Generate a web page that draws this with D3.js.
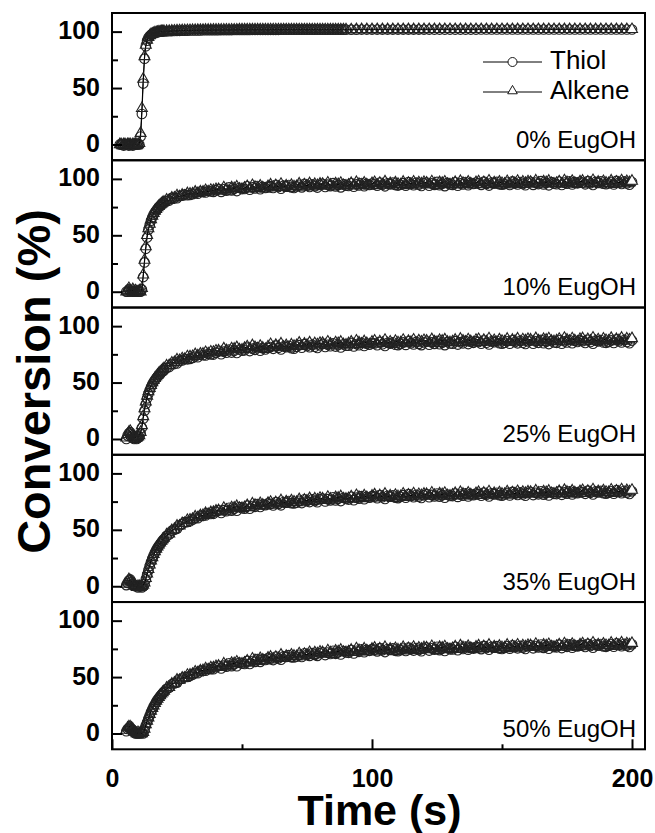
<!DOCTYPE html>
<html>
<head>
<meta charset="utf-8">
<script src="https://cdn.jsdelivr.net/npm/d3@7"></script>
<style>
body { margin: 0; background: #fff; }
</style>
</head>
<body>
<div id="chart"></div>
<script>
// sampling times (s)
var time = [3,3.5,4,4.5,5,5.5,6,6.5,7,7.5,8,8.5,9,9.5,10,10.5,11,11.5,12,12.5,13,13.5,14,14.5,15,15.5,16,16.5,17,17.5,18,18.5,19,19.5,20,
	21,22,23,24,25,26,27,28,29,30,
	31,32,33,34,35,36,37,38,39,40,
	41,42,43,44,45,46,47,48,49,50,
	51,52,53,54,55,56,57,58,59,60,
	61,62,63,64,65,66,67,68,69,70,
	71,72,73,74,75,76,77,78,79,80,
	81,82,83,84,85,86,87,88,89,90,
	91,92,93,94,95,96,97,98,99,100,
	101,102,103,104,105,106,107,108,109,110,
	111,112,113,114,115,116,117,118,119,120,
	121,122,123,124,125,126,127,128,129,130,
	131,132,133,134,135,136,137,138,139,140,
	141,142,143,144,145,146,147,148,149,150,
	151,152,153,154,155,156,157,158,159,160,
	161,162,163,164,165,166,167,168,169,170,
	171,172,173,174,175,176,177,178,179,180,
	181,182,183,184,185,186,187,188,189,190,
	191,192,193,194,195,196,197,198,199,200];

// 0% EugOH (recorded every 2 s after 90 s)
var thiol0 = [0,0,0,-1,0,0,0,-1,0,0,-1,0,0,0,0,
	0,7,27,54,76,87,92,94.5,96,97.2,97.8,98.3,98.8,99.2,99.5,99.7,99.9,100,100.1,100.2,
	100.3,100.4,100.5,100.6,100.7,100.7,100.8,100.9,100.9,101,
	101,101.1,101.1,101.1,101.2,101.2,101.2,101.3,101.3,101.3,
	101.3,101.4,101.4,101.4,101.4,101.4,101.5,101.5,101.5,101.5,
	101.5,101.5,101.5,101.6,101.6,101.6,101.6,101.6,101.6,101.6,
	101.6,101.6,101.6,101.6,101.7,101.7,101.7,101.7,101.7,101.7,
	101.7,101.7,101.7,101.7,101.7,101.7,101.7,101.7,101.7,101.7,
	101.7,101.7,101.7,101.7,101.7,101.7,101.7,101.7,101.7,101.7,
	null,101.7,null,101.7,null,101.8,null,101.8,null,101.8,
	null,101.8,null,101.8,null,101.8,null,101.8,null,101.8,
	null,101.8,null,101.8,null,101.8,null,101.8,null,101.8,
	null,101.8,null,101.8,null,101.8,null,101.8,null,101.8,
	null,101.8,null,101.8,null,101.8,null,101.8,null,101.8,
	null,101.9,null,101.9,null,101.9,null,101.9,null,101.9,
	null,101.9,null,101.9,null,101.9,null,101.9,null,101.9,
	null,101.9,null,101.9,null,101.9,null,101.9,null,101.9,
	null,101.9,null,101.9,null,101.9,null,101.9,null,101.9,
	null,101.9,null,101.9,null,101.9,null,101.9,null,101.9,
	null,101.9,null,101.9,null,101.9,null,101.9,null,101.9];
var alkene0 = [0,0,-1,0,0,-1,0,0,0,-1,0,0,0,-1,0,
	1,10,32,58,78,88,92.5,95,96.5,97.5,98,98.5,99,99.3,99.6,99.8,100,100.1,100.2,100.3,
	100.4,100.5,100.6,100.7,100.8,100.9,101,101,101.1,101.1,
	101.2,101.2,101.3,101.3,101.3,101.4,101.4,101.4,101.5,101.5,
	101.5,101.5,101.5,101.6,101.6,101.6,101.6,101.6,101.7,101.7,
	101.7,101.7,101.7,101.7,101.7,101.7,101.7,101.7,101.7,101.7,
	101.8,101.8,101.8,101.8,101.8,101.8,101.8,101.8,101.8,101.8,
	101.8,101.8,101.8,101.8,101.8,101.8,101.8,101.8,101.8,101.8,
	101.8,101.8,101.8,101.8,101.8,101.8,101.8,101.8,101.8,101.8,
	null,101.8,null,101.9,null,101.9,null,101.9,null,101.9,
	null,101.9,null,101.9,null,101.9,null,101.9,null,101.9,
	null,101.9,null,101.9,null,101.9,null,101.9,null,101.9,
	null,102,null,102,null,102,null,102,null,102,
	null,102,null,102,null,102,null,102,null,102,
	null,102,null,102,null,102,null,102,null,102,
	null,102,null,102,null,102,null,102,null,102,
	null,102,null,102,null,102,null,102,null,102,
	null,102,null,102,null,102,null,102,null,102,
	null,102,null,102,null,102,null,102,null,102,
	null,102,null,102,null,102,null,102,null,102];

// 10% EugOH
var thiol10 = [null,null,null,null,null,
	0,0,2,0,1,0,0,0,1,0,0,
	0,2,13,26,38,48,55,59,63,66,68.5,70.5,72,73.5,75,76.2,77.2,78,78.8,
	80.5,80.8,83.1,82.9,82.9,84.9,85.1,86.2,85.6,85.8,
	86.5,87.6,86.9,88.8,88.3,88,89.4,88.8,88.5,90,
	91,88.5,90.7,89.6,92.4,89.7,91.2,89.2,92.1,91,
	91.1,93.4,90.4,92.5,91.5,93.6,90.8,92.9,91.9,93.2,
	93.5,91.9,94.7,92.8,91.3,94,93.3,94.5,92.4,92,
	93.3,94.7,92.5,95.6,94,92.9,95.1,93.4,92.3,94.6,
	95.6,92.9,94.9,93.6,96.2,93.3,94.7,92.5,95.3,94,
	93.8,96.1,93.1,95.2,94.2,96.3,93.5,95.6,94.6,95.9,
	95.6,94,96.8,94.9,93.4,96.1,95.4,96.6,94.5,94.1,
	94.8,96.2,94,97.1,95.5,94.4,96.6,94.9,93.8,96.1,
	96.7,94,96,94.7,97.3,94.4,95.8,93.6,96.4,95.1,
	94.7,97,94,96.1,95.1,97.2,94.4,96.5,95.5,96.8,
	96.3,94.7,97.5,95.6,94.1,96.8,96.1,97.3,95.2,94.8,
	95.4,96.8,94.6,97.7,96.1,95,97.2,95.5,94.4,96.7,
	97.4,94.7,96.7,95.4,98,95.1,96.5,94.3,97.1,95.8,
	95.3,97.6,94.6,96.7,95.7,97.8,95,97.1,96.1,97.4,
	96.8,95.2,98,96.1,94.6,97.3,96.6,97.8,95.7,95.3,
	95.9,97.3,95.1,98.2,96.6,95.5,97.7,96,94.9,97.2];
var alkene10 = [null,null,null,null,null,
	0,1,3,1,0,2,0,1,0,0,1,
	0,3,15,28,40,50,56,60,64,67,69.5,71.5,73,74.5,75.8,77,78,78.8,79.5,
	81.4,81.1,83.1,83.2,85.2,84.3,85.7,85,87,86.7,
	86.8,88.4,87.2,88.6,88.4,89.8,88.6,90,89.7,90.7,
	90.7,89.3,92.3,90.6,89.3,92.2,91.6,93,91,90.8,
	92,93.4,91.2,94.3,92.7,91.6,93.8,92.1,91,93.3,
	94.8,92.1,94.1,92.8,95.4,92.5,93.9,91.7,94.5,93.2,
	93.4,95.7,92.7,94.8,93.8,95.9,93.1,95.2,94.2,95.5,
	95.3,93.7,96.5,94.6,93.1,95.8,95.1,96.3,94.2,93.8,
	94.7,96.1,93.9,97,95.4,94.3,96.5,94.8,93.7,96,
	96.9,94.2,96.2,94.9,97.5,94.6,96,93.8,96.6,95.3,
	94.9,97.2,94.2,96.3,95.3,97.4,94.6,96.7,95.7,97,
	96.4,94.8,97.6,95.7,94.2,96.9,96.2,97.4,95.3,94.9,
	95.6,97,94.8,97.9,96.3,95.2,97.4,95.7,94.6,96.9,
	97.6,94.9,96.9,95.6,98.2,95.3,96.7,94.5,97.3,96,
	95.5,97.8,94.8,96.9,95.9,98,95.2,97.3,96.3,97.6,
	97.1,95.5,98.3,96.4,94.9,97.6,96.9,98.1,96,95.6,
	96.2,97.6,95.4,98.5,96.9,95.8,98,96.3,95.2,97.5,
	98.1,95.4,97.4,96.1,98.7,95.8,97.2,95,97.8,96.5,
	96,98.3,95.3,97.4,96.4,98.5,95.7,97.8,96.8,98.1];

// 25% EugOH
var thiol25 = [null,null,null,null,null,
	0,3,5,6,4,1,0,1,0,1,
	2,5,10,18,25,31,36,40,43,46,48.5,50.5,52.3,53.8,55.2,56.5,57.7,58.9,60,61,
	63,63.8,66.5,66.6,66.9,69.2,69.6,71,70.6,71,
	71.9,73.1,72.5,74.6,74.2,74,75.5,75,74.8,76.4,
	77.5,75.1,77.4,76.4,79.3,76.6,78.3,76.3,79.3,78.2,
	78.6,80.9,77.9,80,79,81.1,78.3,80.4,79.4,80.7,
	81.5,79.9,82.7,80.8,79.3,82,81.3,82.5,80.4,80,
	81.7,83.1,80.9,84,82.4,81.3,83.5,81.8,80.7,83,
	84.2,81.5,83.5,82.2,84.8,81.9,83.3,81.1,83.9,82.6,
	82.7,85,82,84.1,83.1,85.2,82.4,84.5,83.5,84.8,
	84.7,83.1,85.9,84,82.5,85.2,84.5,85.7,83.6,83.2,
	84.2,85.6,83.4,86.5,84.9,83.8,86,84.3,83.2,85.5,
	86.3,83.6,85.6,84.3,86.9,84,85.4,83.2,86,84.7,
	84.4,86.7,83.7,85.8,84.8,86.9,84.1,86.2,85.2,86.5,
	86,84.4,87.2,85.3,83.8,86.5,85.8,87,84.9,84.5,
	85.2,86.6,84.4,87.5,85.9,84.8,87,85.3,84.2,86.5,
	87.2,84.5,86.5,85.2,87.8,84.9,86.3,84.1,86.9,85.6,
	85.2,87.5,84.5,86.6,85.6,87.7,84.9,87,86,87.3,
	86.7,85.1,87.9,86,84.5,87.2,86.5,87.7,85.6,85.2,
	85.9,87.3,85.1,88.2,86.6,85.5,87.7,86,84.9,87.2];
var alkene25 = [null,null,null,null,null,
	1,4,6,7,5,2,1,1,1,2,
	3,6,12,20,27,33,38,42,45,47.5,50,52,53.8,55.3,56.7,58,59.2,60.4,61.5,62.5,
	64.9,65.1,67.5,67.9,70.2,69.6,71.2,70.8,73,72.9,
	73.2,74.9,73.8,75.4,75.3,76.8,75.7,77.2,77,78.1,
	78.2,76.9,80,78.4,77.2,80.1,79.7,81.1,79.2,79,
	80.5,81.9,79.7,82.8,81.2,80.1,82.3,80.6,79.5,81.8,
	83.8,81.1,83.1,81.8,84.4,81.5,82.9,80.7,83.5,82.2,
	82.8,85.1,82.1,84.2,83.2,85.3,82.5,84.6,83.6,84.9,
	84.9,83.3,86.1,84.2,82.7,85.4,84.7,85.9,83.8,83.4,
	84.6,86,83.8,86.9,85.3,84.2,86.4,84.7,83.6,85.9,
	87,84.3,86.3,85,87.6,84.7,86.1,83.9,86.7,85.4,
	85.3,87.6,84.6,86.7,85.7,87.8,85,87.1,86.1,87.4,
	87,85.4,88.2,86.3,84.8,87.5,86.8,88,85.9,85.5,
	86.3,87.7,85.5,88.6,87,85.9,88.1,86.4,85.3,87.6,
	88.3,85.6,87.6,86.3,88.9,86,87.4,85.2,88,86.7,
	86.3,88.6,85.6,87.7,86.7,88.8,86,88.1,87.1,88.4,
	87.9,86.3,89.1,87.2,85.7,88.4,87.7,88.9,86.8,86.4,
	87.1,88.5,86.3,89.4,87.8,86.7,88.9,87.2,86.1,88.4,
	89,86.3,88.3,87,89.6,86.7,88.1,85.9,88.7,87.4,
	87,89.3,86.3,88.4,87.4,89.5,86.7,88.8,87.8,89.1];

// 35% EugOH
var thiol35 = [null,null,null,null,null,
	1,3,5,6,4,2,1,0,0,-1,
	0,0,-1,0,2,6,10,14,18,21.5,24.5,27.3,29.8,32,34,35.8,37.5,39,40.4,41.7,
	44.4,45.8,49.2,50,50.9,53.8,54.9,56.8,56.9,57.7,
	59,60.6,60.3,62.7,62.6,62.7,64.4,64.1,64.2,65.9,
	67.2,64.9,67.4,66.5,69.5,67,68.8,66.9,70.1,69.1,
	68.8,71.4,68.7,71.1,70.4,72.8,70.3,72.6,71.9,73.4,
	73,71.6,74.6,73,71.7,74.6,74.1,75.5,73.6,73.4,
	74.1,75.7,73.7,77,75.5,74.6,77,75.5,74.5,77,
	77.6,75.1,77.2,76.1,78.8,76,77.6,75.5,78.4,77.3,
	76.8,79.2,76.3,78.5,77.6,79.8,77.1,79.3,78.4,79.8,
	79.6,78,80.8,78.9,77.4,80.1,79.4,80.6,78.5,78.1,
	79.3,80.7,78.5,81.6,80,78.9,81.1,79.4,78.3,80.6,
	81.6,78.9,80.9,79.6,82.2,79.3,80.7,78.5,81.3,80,
	79.9,82.2,79.2,81.3,80.3,82.4,79.6,81.7,80.7,82,
	81.8,80.2,83,81.1,79.6,82.3,81.6,82.8,80.7,80.3,
	81.3,82.7,80.5,83.6,82,80.9,83.1,81.4,80.3,82.6,
	83.5,80.8,82.8,81.5,84.1,81.2,82.6,80.4,83.2,81.9,
	81.7,84,81,83.1,82.1,84.2,81.4,83.5,82.5,83.8,
	83.5,81.9,84.7,82.8,81.3,84,83.3,84.5,82.4,82,
	82.8,84.2,82,85.1,83.5,82.4,84.6,82.9,81.8,84.1];
var alkene35 = [null,null,null,null,null,
	2,4,6,5,4,3,1,0,-1,0,
	0,-1,0,1,3,7,11,15,19,22.5,25.5,28.3,30.8,33,35,36.8,38.5,40,41.4,42.7,
	45.6,46.4,49.5,50.6,53.5,53.5,55.7,55.8,58.5,58.8,
	59.5,61.6,60.8,62.7,62.9,64.7,63.8,65.5,65.6,66.8,
	67.1,65.9,69.2,67.7,66.6,69.7,69.4,70.9,69.2,69.1,
	69.9,71.6,69.7,73.1,71.8,71,73.5,72,71.2,73.7,
	74.5,72,74.2,73.2,76,73.3,74.9,72.9,75.9,74.8,
	74.4,76.9,74.1,76.4,75.5,77.8,75.2,77.5,76.6,78.1,
	77.5,76.1,79,77.3,75.9,78.7,78.2,79.5,77.5,77.3,
	77.9,79.4,77.3,80.5,79,78,80.3,78.7,77.7,80.1,
	81.1,78.4,80.4,79.1,81.7,78.8,80.2,78,80.8,79.5,
	79.6,81.9,78.9,81,80,82.1,79.3,81.4,80.4,81.7,
	81.5,79.9,82.7,80.8,79.3,82,81.3,82.5,80.4,80,
	81,82.4,80.2,83.3,81.7,80.6,82.8,81.1,80,82.3,
	83.3,80.6,82.6,81.3,83.9,81,82.4,80.2,83,81.7,
	81.6,83.9,80.9,83,82,84.1,81.3,83.4,82.4,83.7,
	83.4,81.8,84.6,82.7,81.2,83.9,83.2,84.4,82.3,81.9,
	82.8,84.2,82,85.1,83.5,82.4,84.6,82.9,81.8,84.1,
	85,82.3,84.3,83,85.6,82.7,84.1,81.9,84.7,83.4,
	83.1,85.4,82.4,84.5,83.5,85.6,82.8,84.9,83.9,85.2];

// 50% EugOH
var thiol50 = [null,null,null,null,null,
	2,4,5,5,4,3,1,0,0,0,
	0,0,1,0,3,7,10,13,16,19,21.5,23.8,26,28,29.8,31.5,33,34.4,35.7,36.9,
	39.3,40.5,43.7,44.3,45.1,47.8,48.6,50.3,50.2,51,
	52.2,53.7,53.4,55.7,55.6,55.6,57.3,57,57,58.7,
	60,57.7,60.1,59.2,62.2,59.7,61.5,59.6,62.8,61.8,
	61.6,64.3,61.7,64.2,63.5,66,63.5,65.9,65.2,66.8,
	66.4,65.1,68.2,66.6,65.4,68.3,67.9,69.4,67.5,67.4,
	68.1,69.7,67.8,71.1,69.7,68.8,71.2,69.7,68.8,71.3,
	72,69.5,71.7,70.5,73.3,70.6,72.1,70.1,73.1,71.9,
	71.5,73.9,71,73.3,72.4,74.6,72,74.2,73.3,74.7,
	74.4,72.8,75.6,73.7,72.2,74.9,74.2,75.4,73.3,72.9,
	73.9,75.3,73.1,76.2,74.6,73.5,75.7,74,72.9,75.2,
	76.2,73.5,75.5,74.2,76.8,73.9,75.3,73.1,75.9,74.6,
	74.5,76.8,73.8,75.9,74.9,77,74.2,76.3,75.3,76.6,
	76.4,74.8,77.6,75.7,74.2,76.9,76.2,77.4,75.3,74.9,
	75.9,77.3,75.1,78.2,76.6,75.5,77.7,76,74.9,77.2,
	78.2,75.5,77.5,76.2,78.8,75.9,77.3,75.1,77.9,76.6,
	76.4,78.7,75.7,77.8,76.8,78.9,76.1,78.2,77.2,78.5,
	78.3,76.7,79.5,77.6,76.1,78.8,78.1,79.3,77.2,76.8,
	77.7,79.1,76.9,80,78.4,77.3,79.5,77.8,76.7,79];
var alkene50 = [null,null,null,null,null,
	3,5,6,6,5,4,2,1,0,1,
	0,1,0,1,4,8,11,14,17,19.8,22.3,24.6,26.8,28.8,30.6,32.2,33.7,35.1,36.4,37.6,
	40.4,41,43.9,44.8,47.5,47.3,49.3,49.2,51.7,52,
	52.6,54.6,53.8,55.6,55.8,57.5,56.6,58.3,58.3,59.5,
	59.8,58.6,61.8,60.3,59.2,62.3,62,63.5,61.8,61.7,
	62.6,64.4,62.6,66.1,64.8,64.1,66.6,65.2,64.4,67,
	67.8,65.4,67.7,66.7,69.6,66.9,68.6,66.7,69.7,68.7,
	68.3,70.8,68.1,70.4,69.6,71.9,69.3,71.6,70.8,72.3,
	71.8,70.4,73.4,71.6,70.3,73.2,72.6,74,72.1,71.8,
	72.5,74,71.9,75.2,73.7,72.7,75.1,73.5,72.5,74.9,
	75.8,73.1,75.1,73.8,76.4,73.5,74.9,72.7,75.5,74.2,
	74.1,76.4,73.4,75.5,74.5,76.6,73.8,75.9,74.9,76.2,
	76,74.4,77.2,75.3,73.8,76.5,75.8,77,74.9,74.5,
	75.5,76.9,74.7,77.8,76.2,75.1,77.3,75.6,74.5,76.8,
	77.8,75.1,77.1,75.8,78.4,75.5,76.9,74.7,77.5,76.2,
	76.1,78.4,75.4,77.5,76.5,78.6,75.8,77.9,76.9,78.2,
	78,76.4,79.2,77.3,75.8,78.5,77.8,79,76.9,76.5,
	77.4,78.8,76.6,79.7,78.1,77,79.2,77.5,76.4,78.7,
	79.7,77,79,77.7,80.3,77.4,78.8,76.6,79.4,78.1,
	77.9,80.2,77.2,79.3,78.3,80.4,77.6,79.7,78.7,80];

var panelLabels = ["0% EugOH", "10% EugOH", "25% EugOH", "35% EugOH", "50% EugOH"];
var seriesNames = ["Thiol", "Alkene"];
var yTicks = [0, 50, 100];
var yMinorTicks = [25, 75];
var xTicks = [0, 100, 200];
var xMinorTicks = [50, 150];

var panels = [
	{ label: panelLabels[0], thiol: thiol0, alkene: alkene0 },
	{ label: panelLabels[1], thiol: thiol10, alkene: alkene10 },
	{ label: panelLabels[2], thiol: thiol25, alkene: alkene25 },
	{ label: panelLabels[3], thiol: thiol35, alkene: alkene35 },
	{ label: panelLabels[4], thiol: thiol50, alkene: alkene50 }
];

panels.forEach(function(p) {
	if (p.thiol.length !== time.length || p.alkene.length !== time.length)
		throw new Error(p.label + " length " + p.thiol.length + "/" + p.alkene.length + " vs " + time.length);
});

var width = 655, height = 833;
var plotLeft = 112, plotRight = 645, plotTop = 13, panelH = 147.26;
var font = "'Liberation Sans', Arial, sans-serif";

var x = d3.scaleLinear().domain([0, 205]).range([plotLeft, plotRight]);

var svg = d3.select("#chart").append("svg")
	.attr("width", width)
	.attr("height", height)

svg.append("rect")
	.attr("width", width)
	.attr("height", height)
	.attr("fill", "#fff")

var triangle = d3.symbol().type(d3.symbolTriangle).size(52);

function styleAxis(a) {
	a.select(".domain").remove();
	a.attr("font-family", font).attr("font-size", 25).attr("font-weight", "bold");
	a.selectAll("line").attr("stroke", "#000").attr("stroke-width", 2);
	a.selectAll("text").attr("fill", "#000");
}

panels.forEach(function(p, i) {
	var y0 = plotTop + i * panelH;
	var y = d3.scaleLinear().domain([-14, 116.5]).range([y0 + panelH, y0]);
	var g = svg.append("g").attr("class", "panel" + i);

	var pts = function(vals) {
		return time.map(function(t, k) { return [t, vals[k]]; })
			.filter(function(d) { return d[1] != null; });
	};
	var line = d3.line()
		.x(function(d) { return x(d[0]); })
		.y(function(d) { return y(d[1]); });

	// thiol: line + open circles
	var thiol = pts(p.thiol);
	g.append("path")
		.attr("d", line(thiol))
		.attr("fill", "none")
		.attr("stroke", "#000")
		.attr("stroke-width", 1)
	g.selectAll("circle.thiol")
		.data(thiol)
		.enter()
			.append("circle")
			.attr("class", "thiol")
			.attr("cx", function(d) { return x(d[0]); })
			.attr("cy", function(d) { return y(d[1]); })
			.attr("r", 4.8)
			.attr("fill", "none")
			.attr("stroke", "#222")
			.attr("stroke-width", 1.1)

	// alkene: line + open triangles
	var alkene = pts(p.alkene);
	g.append("path")
		.attr("d", line(alkene))
		.attr("fill", "none")
		.attr("stroke", "#000")
		.attr("stroke-width", 1)
	g.selectAll("path.alkene")
		.data(alkene)
		.enter()
			.append("path")
			.attr("class", "alkene")
			.attr("d", triangle)
			.attr("transform", function(d) { return "translate(" + x(d[0]) + "," + y(d[1]) + ")"; })
			.attr("fill", function(d, k) { return k === alkene.length - 1 ? "#fff" : "none"; })
			.attr("stroke", "#222")
			.attr("stroke-width", 1.1)

	// y axis, ticks inward
	g.append("g")
		.attr("transform", "translate(" + plotLeft + ",0)")
		.call(d3.axisLeft(y).tickValues(yTicks).tickSize(-10).tickPadding(12))
		.call(styleAxis)
		.selectAll("text").attr("dy", "0.28em")
	g.append("g")
		.attr("transform", "translate(" + plotLeft + ",0)")
		.call(d3.axisLeft(y).tickValues(yMinorTicks).tickSize(-6).tickFormat(""))
		.call(styleAxis)

	// frame
	g.append("rect")
		.attr("x", plotLeft)
		.attr("y", y0)
		.attr("width", plotRight - plotLeft)
		.attr("height", panelH)
		.attr("fill", "none")
		.attr("stroke", "#000")
		.attr("stroke-width", 2)

	g.append("text")
		.attr("x", 636)
		.attr("y", y0 + panelH - 12.5)
		.attr("text-anchor", "end")
		.attr("font-family", font)
		.attr("font-size", 24)
		.attr("fill", "#000")
		.text(p.label)

	if (i === panels.length - 1) {
		var yb = y0 + panelH;
		svg.append("g")
			.attr("transform", "translate(0," + yb + ")")
			.call(d3.axisBottom(x).tickValues(xTicks).tickSize(-10).tickPadding(20))
			.call(styleAxis)
		svg.append("g")
			.attr("transform", "translate(0," + yb + ")")
			.call(d3.axisBottom(x).tickValues(xMinorTicks).tickSize(-5).tickFormat(""))
			.call(styleAxis)
	}
});

// legend in the top panel
var legend = svg.append("g").attr("class", "legend");
seriesNames.forEach(function(name, k) {
	var ly = [62, 92][k];
	legend.append("line")
		.attr("x1", 483)
		.attr("x2", 542)
		.attr("y1", ly)
		.attr("y2", ly)
		.attr("stroke", "#000")
		.attr("stroke-width", 1)
	if (k === 0) {
		legend.append("circle")
			.attr("cx", 512.5)
			.attr("cy", ly)
			.attr("r", 4.5)
			.attr("fill", "#fff")
			.attr("stroke", "#000")
			.attr("stroke-width", 0.9)
	} else {
		legend.append("path")
			.attr("d", d3.symbol().type(d3.symbolTriangle).size(40)())
			.attr("transform", "translate(512.5," + (ly - 1) + ")")
			.attr("fill", "#fff")
			.attr("stroke", "#000")
			.attr("stroke-width", 0.9)
	}
	legend.append("text")
		.attr("x", 550)
		.attr("y", ly + 7)
		.attr("font-family", font)
		.attr("font-size", 26)
		.attr("fill", "#000")
		.text(name)
});

// axis titles
svg.append("text")
	.attr("transform", "translate(50,381.5) rotate(-90)")
	.attr("text-anchor", "middle")
	.attr("font-family", font)
	.attr("font-size", 47)
	.attr("font-weight", "bold")
	.attr("fill", "#000")
	.text("Conversion (%)")

svg.append("text")
	.attr("x", 379.5)
	.attr("y", 825)
	.attr("text-anchor", "middle")
	.attr("font-family", font)
	.attr("font-size", 43)
	.attr("font-weight", "bold")
	.attr("fill", "#000")
	.text("Time (s)")
</script>
</body>
</html>
